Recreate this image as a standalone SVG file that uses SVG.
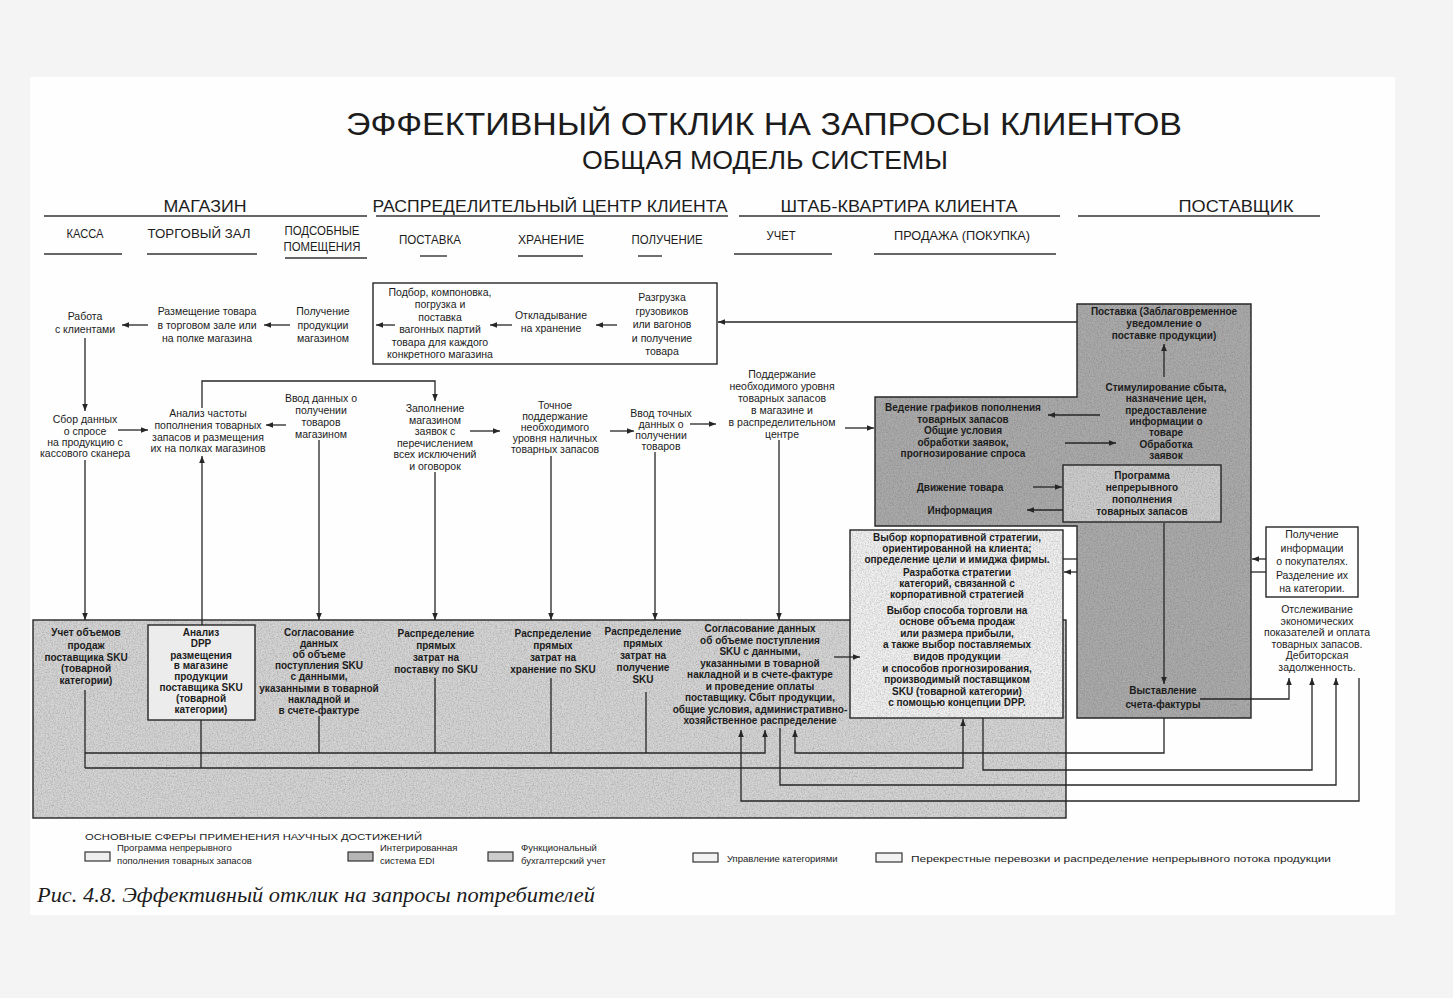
<svg xmlns="http://www.w3.org/2000/svg" width="1453" height="998" viewBox="0 0 1453 998">
<style>
.t{font-family:"Liberation Sans",Arial,sans-serif;font-size:10.5px;fill:#1c1c1c;text-anchor:middle}
.tb{font-family:"Liberation Sans",Arial,sans-serif;font-size:10px;font-weight:bold;fill:#1c1c1c;text-anchor:middle}
.hd{font-family:"Liberation Sans",Arial,sans-serif;fill:#1c1c1c;text-anchor:middle}
.lg{font-family:"Liberation Sans",Arial,sans-serif;font-size:9.5px;fill:#1c1c1c}
.ln{fill:none;stroke:#262626;stroke-width:1.3}
.a{marker-end:url(#ah)}
.box{fill:none;stroke:#262626;stroke-width:1.4}
.rule{stroke:#333;stroke-width:1.4}
</style>
<defs>
<marker id="ah" viewBox="0 0 10 10" refX="10" refY="5" markerWidth="9" markerHeight="7" markerUnits="userSpaceOnUse" orient="auto">
<path d="M0,1 L10,5 L0,9 z" fill="#262626"/>
</marker>
<filter id="grain" x="0" y="0" width="1" height="1">
<feTurbulence type="fractalNoise" baseFrequency="0.75" numOctaves="2" seed="4" result="noise"/>
<feColorMatrix in="noise" type="matrix" values="0 0 0 0 0.1 0 0 0 0 0.1 0 0 0 0 0.1 0.9 0 0 0 -0.33" result="specks"/>
<feComposite in="specks" in2="SourceGraphic" operator="in" result="clipped"/>
<feMerge><feMergeNode in="SourceGraphic"/><feMergeNode in="clipped"/></feMerge>
</filter>
</defs>

<rect x="0" y="0" width="1453" height="998" fill="#f4f4f4"/>
<rect x="30" y="77" width="1365" height="838" fill="#fefefe"/>

<g id="header">
<text class="hd" x="764" y="135" font-size="32" textLength="836" lengthAdjust="spacingAndGlyphs">ЭФФЕКТИВНЫЙ ОТКЛИК НА ЗАПРОСЫ КЛИЕНТОВ</text>
<text class="hd" x="765" y="169" font-size="25" textLength="366" lengthAdjust="spacingAndGlyphs">ОБЩАЯ МОДЕЛЬ СИСТЕМЫ</text>
<text class="hd" x="205" y="212" font-size="17" textLength="83" lengthAdjust="spacingAndGlyphs">МАГАЗИН</text>
<text class="hd" x="550" y="212" font-size="17" textLength="355" lengthAdjust="spacingAndGlyphs">РАСПРЕДЕЛИТЕЛЬНЫЙ ЦЕНТР КЛИЕНТА</text>
<text class="hd" x="899" y="212" font-size="17" textLength="237" lengthAdjust="spacingAndGlyphs">ШТАБ-КВАРТИРА КЛИЕНТА</text>
<text class="hd" x="1236" y="212" font-size="17" textLength="115" lengthAdjust="spacingAndGlyphs">ПОСТАВЩИК</text>
<line class="rule" x1="44" y1="216" x2="367" y2="216"/>
<line class="rule" x1="376" y1="216" x2="728" y2="216"/>
<line class="rule" x1="739" y1="216" x2="1060" y2="216"/>
<line class="rule" x1="1078" y1="216" x2="1320" y2="216"/>
<text class="hd" x="85" y="238" font-size="12.5" textLength="37" lengthAdjust="spacingAndGlyphs">КАССА</text>
<text class="hd" x="199" y="238" font-size="12.5" textLength="103" lengthAdjust="spacingAndGlyphs">ТОРГОВЫЙ ЗАЛ</text>
<text class="hd" x="322" y="235" font-size="12.5" textLength="75" lengthAdjust="spacingAndGlyphs">ПОДСОБНЫЕ</text>
<text class="hd" x="322" y="251" font-size="12.5" textLength="77" lengthAdjust="spacingAndGlyphs">ПОМЕЩЕНИЯ</text>
<text class="hd" x="430" y="244" font-size="12.5" textLength="62" lengthAdjust="spacingAndGlyphs">ПОСТАВКА</text>
<text class="hd" x="551" y="244" font-size="12.5" textLength="66" lengthAdjust="spacingAndGlyphs">ХРАНЕНИЕ</text>
<text class="hd" x="667" y="244" font-size="12.5" textLength="71" lengthAdjust="spacingAndGlyphs">ПОЛУЧЕНИЕ</text>
<text class="hd" x="781" y="240" font-size="12.5" textLength="29" lengthAdjust="spacingAndGlyphs">УЧЕТ</text>
<text class="hd" x="962" y="240" font-size="12.5" textLength="136" lengthAdjust="spacingAndGlyphs">ПРОДАЖА (ПОКУПКА)</text>
<line class="rule" x1="44" y1="254" x2="122" y2="254"/>
<line class="rule" x1="147" y1="254" x2="257" y2="254"/>
<line class="rule" x1="285" y1="258" x2="367" y2="258"/>
<line class="rule" x1="420" y1="256" x2="447" y2="256"/>
<line class="rule" x1="518" y1="256" x2="583" y2="256"/>
<line class="rule" x1="638" y1="256" x2="662" y2="256"/>
<line class="rule" x1="734" y1="254" x2="832" y2="254"/>
<line class="rule" x1="874" y1="254" x2="1056" y2="254"/>
</g>

<!-- shaded areas -->
<g id="bottom-area">
<rect x="33" y="620" width="1033" height="198" fill="#d5d5d5" filter="url(#grain)"/>
<rect class="box" x="33" y="620" width="1033" height="198"/>
</g>
<g id="supplier-area">
<path d="M1077,304 H1251 V718 H1077 V526 H875 V397 H1077 Z" fill="#ababab" filter="url(#grain)"/>
<path class="box" d="M1077,304 H1251 V718 H1077 V526 H875 V397 H1077 Z"/>
</g>

<!-- top row -->
<g id="n-rabota"><text class="t" x="85" y="320"><tspan x="85">Работа</tspan><tspan x="85" dy="13">с клиентами</tspan></text></g>
<g id="n-razmeshchenie"><text class="t" x="207" y="315"><tspan x="207">Размещение товара</tspan><tspan x="207" dy="13.5">в торговом зале или</tspan><tspan x="207" dy="13.5">на полке магазина</tspan></text></g>
<g id="n-poluchenie-mag"><text class="t" x="323" y="315"><tspan x="323">Получение</tspan><tspan x="323" dy="13.5">продукции</tspan><tspan x="323" dy="13.5">магазином</tspan></text></g>
<g id="n-rc-box">
<rect class="box" x="373" y="283" width="344" height="81" fill="#ffffff"/>
<text class="t" x="440" y="296"><tspan x="440">Подбор, компоновка,</tspan><tspan x="440" dy="12.4">погрузка и</tspan><tspan x="440" dy="12.4">поставка</tspan><tspan x="440" dy="12.4">вагонных партий</tspan><tspan x="440" dy="12.4">товара для каждого</tspan><tspan x="440" dy="12.4">конкретного магазина</tspan></text>
<text class="t" x="551" y="319"><tspan x="551">Откладывание</tspan><tspan x="551" dy="13">на хранение</tspan></text>
<text class="t" x="662" y="301"><tspan x="662">Разгрузка</tspan><tspan x="662" dy="13.5">грузовиков</tspan><tspan x="662" dy="13.5">или вагонов</tspan><tspan x="662" dy="13.5">и получение</tspan><tspan x="662" dy="13.5">товара</tspan></text>
</g>

<!-- middle row -->
<g id="n-sbor"><text class="t" x="85" y="423"><tspan x="85">Сбор данных</tspan><tspan x="85" dy="11.5">о спросе</tspan><tspan x="85" dy="11">на продукцию с</tspan><tspan x="85" dy="11">кассового сканера</tspan></text></g>
<g id="n-analiz"><text class="t" x="208" y="417"><tspan x="208">Анализ частоты</tspan><tspan x="208" dy="11.8">пополнения товарных</tspan><tspan x="208" dy="11.8">запасов и размещения</tspan><tspan x="208" dy="11.8">их на полках магазинов</tspan></text></g>
<g id="n-vvod"><text class="t" x="321" y="402"><tspan x="321">Ввод данных о</tspan><tspan x="321" dy="12">получении</tspan><tspan x="321" dy="12">товаров</tspan><tspan x="321" dy="12">магазином</tspan></text></g>
<g id="n-zapolnenie"><text class="t" x="435" y="412"><tspan x="435">Заполнение</tspan><tspan x="435" dy="11.5">магазином</tspan><tspan x="435" dy="11.5">заявок с</tspan><tspan x="435" dy="11.5">перечислением</tspan><tspan x="435" dy="11.5">всех исключений</tspan><tspan x="435" dy="11.5">и оговорок</tspan></text></g>
<g id="n-tochnoe"><text class="t" x="555" y="409"><tspan x="555">Точное</tspan><tspan x="555" dy="11">поддержание</tspan><tspan x="555" dy="11">необходимого</tspan><tspan x="555" dy="11">уровня наличных</tspan><tspan x="555" dy="11">товарных запасов</tspan></text></g>
<g id="n-vvod-tochnyh"><text class="t" x="661" y="417"><tspan x="661">Ввод точных</tspan><tspan x="661" dy="11">данных о</tspan><tspan x="661" dy="11">получении</tspan><tspan x="661" dy="11">товаров</tspan></text></g>
<g id="n-podderzhanie"><text class="t" x="782" y="378"><tspan x="782">Поддержание</tspan><tspan x="782" dy="12">необходимого уровня</tspan><tspan x="782" dy="12">товарных запасов</tspan><tspan x="782" dy="12">в магазине и</tspan><tspan x="782" dy="12">в распределительном</tspan><tspan x="782" dy="12">центре</tspan></text></g>

<!-- supplier area texts -->
<g id="n-postavka-supplier"><text class="tb" x="1164" y="315"><tspan x="1164">Поставка (Заблаговременное</tspan><tspan x="1164" dy="12">уведомление о</tspan><tspan x="1164" dy="12">поставке продукции)</tspan></text></g>
<g id="n-stimulirovanie"><text class="tb" x="1166" y="391"><tspan x="1166">Стимулирование сбыта,</tspan><tspan x="1166" dy="11.3">назначение цен,</tspan><tspan x="1166" dy="11.3">предоставление</tspan><tspan x="1166" dy="11.3">информации о</tspan><tspan x="1166" dy="11.3">товаре</tspan><tspan x="1166" dy="11.3">Обработка</tspan><tspan x="1166" dy="11.3">заявок</tspan></text></g>
<g id="n-vedenie"><text class="tb" x="963" y="411"><tspan x="963">Ведение графиков пополнения</tspan><tspan x="963" dy="11.5">товарных запасов</tspan><tspan x="963" dy="11.5">Общие условия</tspan><tspan x="963" dy="11.5">обработки заявок,</tspan><tspan x="963" dy="11.5">прогнозирование спроса</tspan></text>
<text class="tb" x="960" y="491">Движение товара</text>
<text class="tb" x="960" y="514">Информация</text></g>
<g id="n-programma">
<rect x="1063" y="465" width="158" height="57" fill="#cdcdcd" filter="url(#grain)"/>
<rect class="box" x="1063" y="465" width="158" height="57"/>
<text class="tb" x="1142" y="479"><tspan x="1142">Программа</tspan><tspan x="1142" dy="12">непрерывного</tspan><tspan x="1142" dy="12">пополнения</tspan><tspan x="1142" dy="12">товарных запасов</tspan></text>
</g>
<g id="n-vystavlenie"><text class="tb" x="1163" y="694"><tspan x="1163">Выставление</tspan><tspan x="1163" dy="13.5">счета-фактуры</tspan></text></g>
<g id="n-poluchenie-info">
<rect class="box" x="1266" y="527" width="92" height="70" fill="#ffffff"/>
<text class="t" x="1312" y="538"><tspan x="1312">Получение</tspan><tspan x="1312" dy="13.5">информации</tspan><tspan x="1312" dy="13.5">о покупателях.</tspan><tspan x="1312" dy="13.5">Разделение их</tspan><tspan x="1312" dy="13.5">на категории.</tspan></text>
</g>
<g id="n-otslezhivanie"><text class="t" x="1317" y="613"><tspan x="1317">Отслеживание</tspan><tspan x="1317" dy="11.6">экономических</tspan><tspan x="1317" dy="11.6">показателей и оплата</tspan><tspan x="1317" dy="11.6">товарных запасов.</tspan><tspan x="1317" dy="11.6">Дебиторская</tspan><tspan x="1317" dy="11.6">задолженность.</tspan></text></g>

<!-- strategy box -->
<g id="n-strategy">
<rect x="850" y="530" width="213" height="188" fill="#f1f1f1" filter="url(#grain)"/>
<rect class="box" x="850" y="530" width="213" height="188"/>
<text class="tb" x="957" y="541"><tspan x="957">Выбор корпоративной стратегии,</tspan><tspan x="957" dy="11">ориентированной на клиента;</tspan><tspan x="957" dy="11">определение цели и имиджа фирмы.</tspan><tspan x="957" dy="13">Разработка стратегии</tspan><tspan x="957" dy="11">категорий, связанной с</tspan><tspan x="957" dy="11">корпоративной стратегией</tspan><tspan x="957" dy="15.5">Выбор способа торговли на</tspan><tspan x="957" dy="11.6">основе объема продаж</tspan><tspan x="957" dy="11.6">или размера прибыли,</tspan><tspan x="957" dy="11.6">а также выбор поставляемых</tspan><tspan x="957" dy="11.6">видов продукции</tspan><tspan x="957" dy="11.6">и способов прогнозирования,</tspan><tspan x="957" dy="11.6">производимый поставщиком</tspan><tspan x="957" dy="11.6">SKU (товарной категории)</tspan><tspan x="957" dy="11.6">с помощью концепции DPP.</tspan></text>
</g>

<!-- bottom row -->
<g id="n-uchet"><text class="tb" x="86" y="636"><tspan x="86">Учет объемов</tspan><tspan x="86" dy="12.5">продаж</tspan><tspan x="86" dy="12">поставщика SKU</tspan><tspan x="86" dy="11.5">(товарной</tspan><tspan x="86" dy="11.5">категории)</tspan></text></g>
<g id="n-analiz-dpp">
<rect x="148" y="625" width="107" height="95" fill="#ececec"/>
<rect class="box" x="148" y="625" width="107" height="95"/>
<text class="tb" x="201" y="636"><tspan x="201">Анализ</tspan><tspan x="201" dy="11">DPP</tspan><tspan x="201" dy="11.5">размещения</tspan><tspan x="201" dy="10.5">в магазине</tspan><tspan x="201" dy="10.5">продукции</tspan><tspan x="201" dy="11.5">поставщика SKU</tspan><tspan x="201" dy="11">(товарной</tspan><tspan x="201" dy="11">категории)</tspan></text>
</g>
<g id="n-soglasovanie1"><text class="tb" x="319" y="636"><tspan x="319">Согласование</tspan><tspan x="319" dy="11">данных</tspan><tspan x="319" dy="11">об объеме</tspan><tspan x="319" dy="11">поступления SKU</tspan><tspan x="319" dy="11">с данными,</tspan><tspan x="319" dy="11.5">указанными в товарной</tspan><tspan x="319" dy="11">накладной и</tspan><tspan x="319" dy="11">в счете-фактуре</tspan></text></g>
<g id="n-raspr-postavka"><text class="tb" x="436" y="637"><tspan x="436">Распределение</tspan><tspan x="436" dy="12">прямых</tspan><tspan x="436" dy="12">затрат на</tspan><tspan x="436" dy="11.5">поставку по SKU</tspan></text></g>
<g id="n-raspr-hranenie"><text class="tb" x="553" y="637"><tspan x="553">Распределение</tspan><tspan x="553" dy="12">прямых</tspan><tspan x="553" dy="12">затрат на</tspan><tspan x="553" dy="11.5">хранение по SKU</tspan></text></g>
<g id="n-raspr-poluchenie"><text class="tb" x="643" y="635"><tspan x="643">Распределение</tspan><tspan x="643" dy="12">прямых</tspan><tspan x="643" dy="12">затрат на</tspan><tspan x="643" dy="12">получение</tspan><tspan x="643" dy="12">SKU</tspan></text></g>
<g id="n-soglasovanie2"><text class="tb" x="760" y="632"><tspan x="760">Согласование данных</tspan><tspan x="760" dy="11.5">об объеме поступления</tspan><tspan x="760" dy="11.5">SKU с данными,</tspan><tspan x="760" dy="11.5">указанными в товарной</tspan><tspan x="760" dy="11.5">накладной и в счете-фактуре</tspan><tspan x="760" dy="11.5">и проведение оплаты</tspan><tspan x="760" dy="11.5">поставщику. Сбыт продукции,</tspan><tspan x="760" dy="11.5">общие условия, административно-</tspan><tspan x="760" dy="11.5">хозяйственное распределение</tspan></text></g>

<!-- connectors -->
<g id="connectors">
<path class="ln a" d="M148,325 H122"/>
<path class="ln a" d="M290,325 H264"/>
<path class="ln a" d="M395,325 H376"/>
<path class="ln a" d="M512,325 H490"/>
<path class="ln a" d="M617,325 H596"/>
<path class="ln a" d="M1077,322 H718"/>

<path class="ln a" d="M85,338 V411"/>
<path class="ln a" d="M118,430 H148"/>
<path class="ln a" d="M286,425 H266"/>
<path class="ln a" d="M202,408 V381 H435 V401"/>
<path class="ln a" d="M470,431 H500"/>
<path class="ln a" d="M610,431 H634"/>
<path class="ln a" d="M690,424 H716"/>
<path class="ln a" d="M845,428 H874"/>

<path class="ln a" d="M85,460 V620"/>
<path class="ln a" d="M202,625 V456"/>
<path class="ln a" d="M319,440 V620"/>
<path class="ln a" d="M435,472 V620"/>
<path class="ln a" d="M551,456 V620"/>
<path class="ln a" d="M655,452 V620"/>
<path class="ln a" d="M779,440 V620"/>

<path class="ln a" d="M1164,377 V344"/>
<path class="ln a" d="M1100,415 H1048"/>
<path class="ln a" d="M1065,443 H1116"/>
<path class="ln a" d="M1033,487 H1062"/>
<path class="ln a" d="M1063,510 H1027"/>
<path class="ln a" d="M1164,523 V684"/>
<path class="ln a" d="M1200,699 H1289 V678"/>
<path class="ln" d="M1063,559 H1077"/>
<path class="ln a" d="M1077,572 H1064"/>
<path class="ln a" d="M1266,559 H1252"/>
<path class="ln" d="M1251,572 H1266"/>
<path class="ln a" d="M834,657 H860"/>

<path class="ln" d="M85,690 V768"/>
<path class="ln" d="M201,720 V768"/>
<path class="ln a" d="M85,768 H963 V719"/>
<path class="ln" d="M319,716 V753"/>
<path class="ln" d="M435,678 V753"/>
<path class="ln" d="M551,678 V753"/>
<path class="ln" d="M646,692 V753"/>
<path class="ln a" d="M85,753 H765 V730"/>
<path class="ln a" d="M1164,718 V753 H795 V730"/>
<path class="ln a" d="M983,718 V770 H1312 V678"/>
<path class="ln a" d="M780,728 V785 H1336 V678"/>
<path class="ln a" d="M1359,678 V801 H741 V730"/>
</g>

<g id="legend">
<text class="lg" x="85" y="840" font-size="10.5" textLength="337" lengthAdjust="spacingAndGlyphs">ОСНОВНЫЕ СФЕРЫ ПРИМЕНЕНИЯ НАУЧНЫХ ДОСТИЖЕНИЙ</text>
<rect x="85" y="852" width="25" height="9" fill="#eeeeee" stroke="#333" stroke-width="1.2"/>
<text class="lg" x="117" y="851"><tspan x="117">Программа непрерывного</tspan><tspan x="117" dy="13">пополнения товарных запасов</tspan></text>
<rect x="348" y="852" width="25" height="9" fill="#b5b5b5" stroke="#333" stroke-width="1.2"/>
<text class="lg" x="380" y="851"><tspan x="380">Интегрированная</tspan><tspan x="380" dy="13">система EDI</tspan></text>
<rect x="488" y="852" width="25" height="9" fill="#cccccc" stroke="#333" stroke-width="1.2"/>
<text class="lg" x="521" y="851"><tspan x="521">Функциональный</tspan><tspan x="521" dy="13">бухгалтерский учет</tspan></text>
<rect x="693" y="853" width="25" height="9" fill="#f2f2f2" stroke="#333" stroke-width="1.2"/>
<text class="lg" x="727" y="862">Управление категориями</text>
<rect x="876" y="853" width="26" height="9" fill="#f2f2f2" stroke="#333" stroke-width="1.2"/>
<text class="lg" x="911" y="862" textLength="420" lengthAdjust="spacingAndGlyphs">Перекрестные перевозки и распределение непрерывного потока продукции</text>
</g>

<g id="caption">
<text x="37" y="902" font-family="'Liberation Serif','Times New Roman',serif" font-style="italic" font-size="20" fill="#1c1c1c" textLength="558" lengthAdjust="spacingAndGlyphs">Рис. 4.8. Эффективный отклик на запросы потребителей</text>
</g>
</svg>
